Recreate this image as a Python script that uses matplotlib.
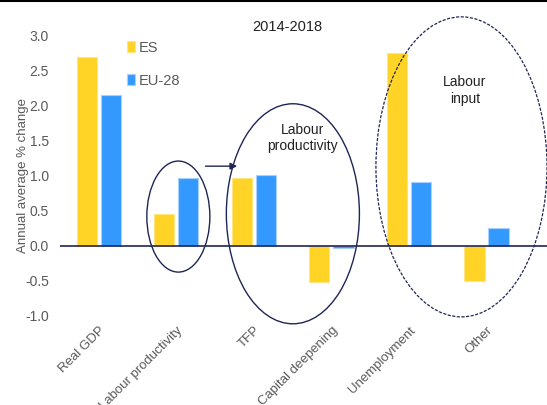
import numpy as np
import matplotlib.pyplot as plt
from matplotlib.patches import Ellipse

plt.rcParams['font.family'] = ['Liberation Sans', 'DejaVu Sans']

# datos
categories = ['Real GDP', 'Labour productivity', 'TFP', 'Capital deepening',
              'Unemployment', 'Other']
es_values = [2.70, 0.45, 0.97, -0.51, 2.76, -0.50]
eu_values = [2.15, 0.97, 1.01, -0.03, 0.91, 0.25]
series_names = ['ES', 'EU-28']
yticks = [-1.0, -0.5, 0.0, 0.5, 1.0, 1.5, 2.0, 2.5, 3.0]

yellow = '#FFD426'
blue = '#3399FF'
navy = '#1F2556'
grey = '#595959'

fig = plt.figure(figsize=(5.47, 4.05), dpi=100)
ax = fig.add_axes([0.1097, 0.2198, 0.8903, 0.6914])

x = np.arange(len(categories))
w = 0.26
ax.bar(x - 0.155, es_values, w, color=yellow, edgecolor='#FFE680', linewidth=0.8,
       label=series_names[0], zorder=2)
ax.bar(x + 0.155, eu_values, w, color=blue, edgecolor='#A8D0FF', linewidth=0.8,
       label=series_names[1], zorder=2)

ax.axhline(0, color=navy, linewidth=1.2, zorder=3)
ax.set_xlim(-0.5, 5.78)
ax.set_ylim(-1.0, 3.0)
ax.set_yticks(yticks)
ax.set_yticklabels([f'{v:.1f}' for v in yticks], color=grey, fontsize=10)
ax.set_xticks(x)
ax.set_xticklabels(categories, rotation=45, ha='right', rotation_mode='anchor',
                   color=grey, fontsize=9.5)
ax.tick_params(axis='both', length=0)
ax.tick_params(axis='y', pad=8)
ax.tick_params(axis='x', pad=6)
for s in ax.spines.values():
    s.set_visible(False)

ax.set_ylabel('Annual average % change', color=grey, fontsize=9.5)
ax.yaxis.set_label_coords(-0.064, 0.5)

fig.text(0.525, 0.933, '2014-2018', ha='center', va='center', fontsize=10.5,
         color='#222222')

leg = ax.legend(loc='upper left', bbox_to_anchor=(0.11, 1.03), frameon=False,
                handlelength=0.55, handleheight=0.7, handletextpad=0.3,
                labelspacing=1.3, fontsize=10.5)
for t in leg.get_texts():
    t.set_color(grey)

# elipses y anotaciones
ax.add_patch(Ellipse((1.026, 0.42), 0.813, 1.586, fill=False, edgecolor=navy,
                     linewidth=1.0, clip_on=False, zorder=4))
ax.add_patch(Ellipse((2.503, 0.46), 1.716, 3.143, fill=False, edgecolor=navy,
                     linewidth=1.0, clip_on=False, zorder=4))
ax.add_patch(Ellipse((4.677, 1.13), 2.206, 4.286, fill=False, edgecolor=navy,
                     linewidth=0.9, linestyle=(0, (2.5, 1.2)), clip_on=False, zorder=4))
ax.annotate('', xy=(1.82, 1.14), xytext=(1.34, 1.14),
            arrowprops=dict(arrowstyle='-|>', color=navy, lw=1.0, mutation_scale=10))
ax.text(2.63, 1.54, 'Labour\nproductivity', ha='center', va='center', fontsize=10,
        color='#222222', linespacing=1.2)
ax.text(4.72, 2.22, 'Labour\ninput', ha='center', va='center', fontsize=10,
        color='#222222', linespacing=1.2)

# linea superior del recuadro
fig.add_artist(plt.Line2D([0, 1], [0.998, 0.998], color='black', linewidth=1.5,
                          transform=fig.transFigure))

fig.savefig('out.png', dpi=100)
